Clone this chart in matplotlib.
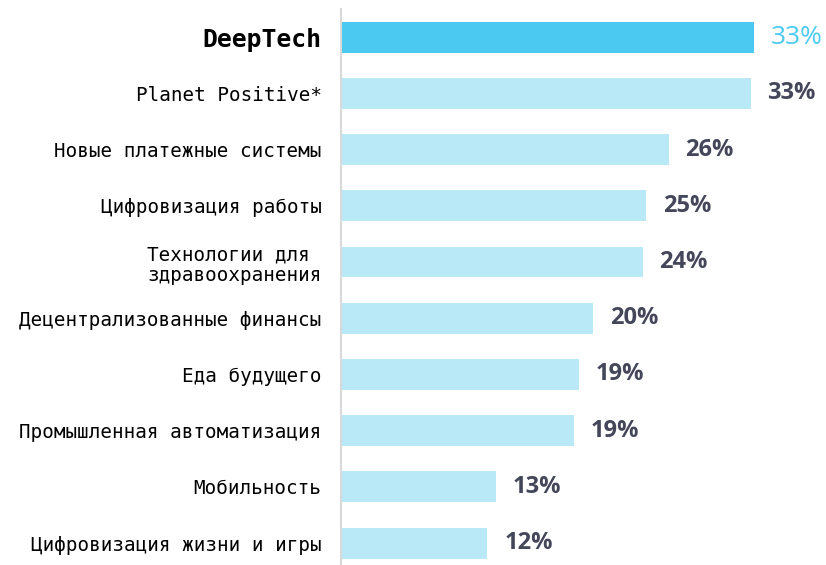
import matplotlib.pyplot as plt

categories = ['DeepTech', 'Planet Positive*', 'Новые платежные системы',
              'Цифровизация работы', 'Технологии для \nздравоохранения',
              'Децентрализованные финансы', 'Еда будущего',
              'Промышленная автоматизация', 'Мобильность',
              'Цифровизация жизни и игры']
values = [33.3, 33.0, 26.4, 24.6, 24.3, 20.3, 19.2, 18.8, 12.5, 11.8]
labels = ['33%', '33%', '26%', '25%', '24%', '20%', '19%', '19%', '13%', '12%']

hi_color = '#4cc9f0'
bar_color = '#b9e8f7'
txt_color = '#44465a'

fig = plt.figure(figsize=(8.26, 5.65), dpi=100)
ax = fig.add_axes([0.4128, 0.0, 0.5772, 0.984])

ypos = list(range(len(categories)))
colors = [hi_color] + [bar_color] * (len(categories) - 1)
ax.barh(ypos, values, height=0.55, color=colors)

ax.set_xlim(0, 38.4)
ax.set_ylim(9.39, -0.5)

for i, (v, lab) in enumerate(zip(values, labels)):
    if i == 0:
        ax.annotate(lab, (v, i), xytext=(12, 0), textcoords='offset points',
                    va='center', ha='left', fontsize=19, color=hi_color,
                    family='Open Sans')
    else:
        ax.annotate(lab, (v, i), xytext=(12, 0), textcoords='offset points',
                    va='center', ha='left', fontsize=17, color=txt_color,
                    fontweight='bold', family='Open Sans')

ax.set_yticks(ypos)
ax.set_yticklabels(categories, family='DejaVu Sans Mono', fontsize=13.9,
                   linespacing=1.15)
ax.tick_params(axis='y', length=0, pad=14)
tl = ax.get_yticklabels()[0]
tl.set_fontweight('bold')
tl.set_fontsize(17.8)
ax.set_xticks([])

for s in ['top', 'right', 'bottom']:
    ax.spines[s].set_visible(False)
ax.spines['left'].set_color('#d9d9d9')
ax.spines['left'].set_linewidth(1.5)

fig.savefig('out.png', dpi=100)
